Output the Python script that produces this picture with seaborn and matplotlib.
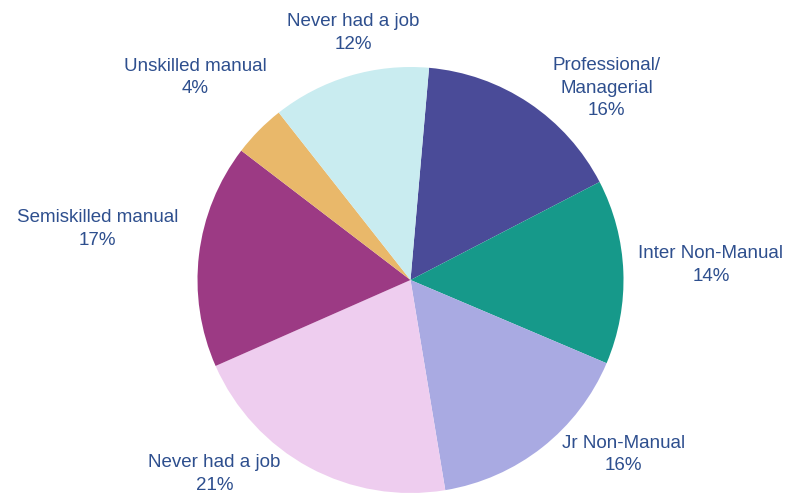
import matplotlib
matplotlib.use("Agg")
import matplotlib.pyplot as plt
import seaborn as sns

# Social class of household reference person
categories = ["Professional/\nManagerial", "Inter Non-Manual", "Jr Non-Manual",
              "Never had a job", "Semiskilled manual", "Unskilled manual",
              "Never had a job"]
shares = [16, 14, 16, 21, 17, 4, 12]
colors = ["#4a4b98", "#16998a", "#a9aae2", "#eecdef", "#9c3a84", "#e9b86a", "#c9ecf0"]

# label anchor points (axes data units, pie radius = 1)
label_pos = [(0.92, 0.90), (1.41, 0.07), (1.00, -0.82), (-0.92, -0.91),
             (-1.47, 0.24), (-1.01, 0.95), (-0.27, 1.16)]

sns.set_theme(style="white")
plt.rcParams["font.family"] = ["Liberation Sans", "DejaVu Sans"]

W, H = 788, 494
cx, cy, r = 410.5, 280, 213
fig = plt.figure(figsize=(W / 100, H / 100), dpi=100)
fig.patch.set_facecolor("white")
ax = fig.add_axes([(cx - r) / W, (H - cy - r) / H, 2 * r / W, 2 * r / H])
ax.set_xlim(-1, 1)
ax.set_ylim(-1, 1)
ax.set_aspect("equal")
ax.axis("off")

ax.pie(shares, colors=colors, startangle=85, counterclock=False, radius=1,
       wedgeprops=dict(linewidth=0), frame=False)
ax.set_xlim(-1, 1)
ax.set_ylim(-1, 1)

for name, val, (x, y) in zip(categories, shares, label_pos):
    ax.text(x, y, f"{name}\n{val}%", ha="center", va="center", fontsize=13.5,
            color="#2e4f8e", linespacing=1.42, clip_on=False)

fig.savefig("out.png", dpi=100, facecolor="white")
